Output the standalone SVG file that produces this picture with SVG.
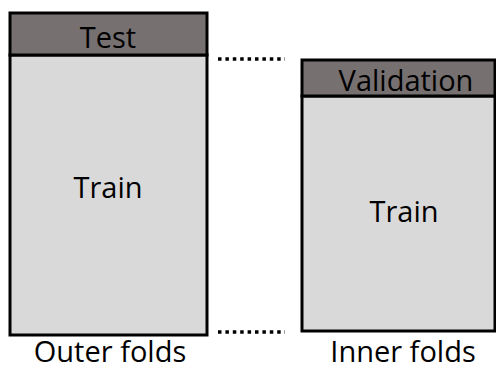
<svg xmlns="http://www.w3.org/2000/svg" width="496" height="369" viewBox="0 0 496 369">
<style>
.hdr{fill:#767070;stroke:#000;stroke-width:3}
.body{fill:#d9d9d9;stroke:#000;stroke-width:3}
.lbl{font-family:"Open Sans","Liberation Sans",sans-serif;font-size:29px;fill:#000;text-anchor:middle}
.dots{stroke:#000;stroke-width:3.5;stroke-dasharray:3.5 3.9;fill:none}
</style>
<rect width="496" height="369" fill="#fff"/>
<g id="outer">
<rect class="body" x="10" y="55" width="197" height="280"/>
<rect class="hdr" x="10" y="13" width="197" height="42"/>
<text class="lbl" x="108" y="48">Test</text>
<text class="lbl" x="108" y="198">Train</text>
</g>
<g id="inner">
<rect class="body" x="302" y="96" width="193" height="235"/>
<rect class="hdr" x="302" y="60" width="193" height="36"/>
<text class="lbl" x="406" y="91">Validation</text>
<text class="lbl" x="404" y="222">Train</text>
</g>
<g id="connectors">
<line class="dots" x1="218" y1="59" x2="285" y2="59"/>
<line class="dots" x1="218" y1="332" x2="285" y2="332"/>
</g>
<text class="lbl" x="110" y="362">Outer folds</text>
<text class="lbl" x="403" y="362">Inner folds</text>
</svg>
